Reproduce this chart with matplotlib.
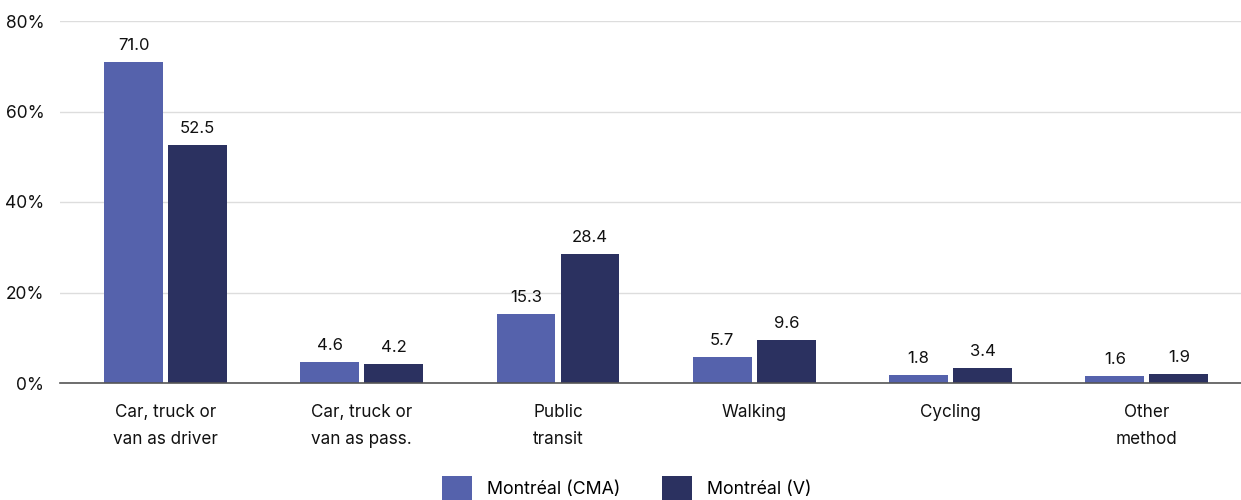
import matplotlib.pyplot as plt
import numpy as np
from matplotlib.patches import Patch

plt.rcParams['font.family'] = ['Inter', 'DejaVu Sans']

# Data
categories = ['Car, truck or\nvan as driver', 'Car, truck or\nvan as pass.', 'Public\ntransit',
              'Walking', 'Cycling', 'Other\nmethod']
cma = [71.0, 4.6, 15.3, 5.7, 1.8, 1.6]
ville = [52.5, 4.2, 28.4, 9.6, 3.4, 1.9]
series_names = ['Montréal (CMA)', 'Montréal (V)']
colors = ['#5562AC', '#2B3160']

fig = plt.figure(figsize=(12.41, 5), dpi=100)
ax = fig.add_axes([0.048, 0.234, 0.952, 0.724])

x = np.arange(len(categories))
w = 0.30
off = 0.163

b1 = ax.bar(x - off, cma, w, color=colors[0], zorder=3)
b2 = ax.bar(x + off, ville, w, color=colors[1], zorder=3)

for bars, vals in [(b1, cma), (b2, ville)]:
    for b, v in zip(bars, vals):
        ax.annotate(f'{v:.1f}', (b.get_x() + b.get_width() / 2, v),
                    xytext=(0, 6.5), textcoords='offset points',
                    ha='center', va='bottom', fontsize=12, color='#111111')

ax.set_ylim(0, 80)
ax.set_xlim(-0.54, 5.48)
ax.set_yticks([0, 20, 40, 60, 80])
ax.set_yticklabels([f'{t}%' for t in [0, 20, 40, 60, 80]], fontsize=12.5, color='#111111')
ax.set_xticks(x)
ax.set_xticklabels(categories, fontsize=12.3, color='#111111', linespacing=1.75)
ax.tick_params(axis='both', length=0)
ax.tick_params(axis='x', pad=15)
ax.tick_params(axis='y', pad=11)

ax.grid(axis='y', color='#dddddd', linewidth=1, zorder=0)
for s in ['top', 'right', 'left']:
    ax.spines[s].set_visible(False)
ax.spines['bottom'].set_color('#555555')
ax.spines['bottom'].set_linewidth(1.2)
ax.spines['bottom'].set_zorder(4)

handles = [Patch(facecolor=c, label=n) for c, n in zip(colors, series_names)]
fig.legend(handles=handles, loc='lower center', bbox_to_anchor=(0.505, -0.034), ncol=2,
           frameon=False, fontsize=12.8, handlelength=1.7, handleheight=1.75,
           handletextpad=0.85, columnspacing=2.3)

plt.savefig('out.png', dpi=100)
